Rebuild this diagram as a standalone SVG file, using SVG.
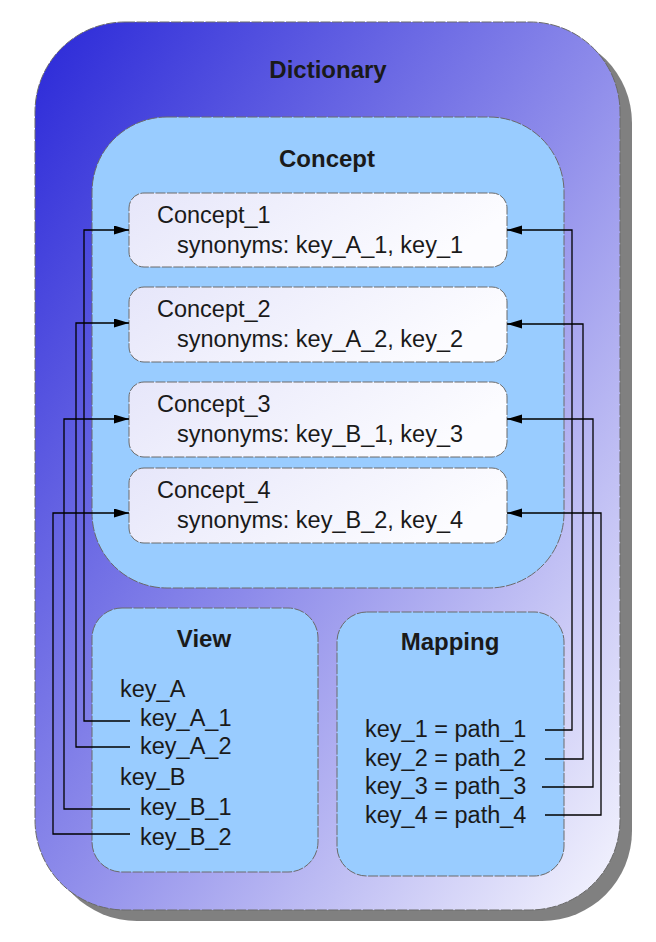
<svg xmlns="http://www.w3.org/2000/svg" width="656" height="942" viewBox="0 0 656 942">
<defs>
<linearGradient id="gDict" x1="0" y1="0" x2="1" y2="1">
<stop offset="0" stop-color="#2a28d8"/>
<stop offset="0.5" stop-color="#8c8aea"/>
<stop offset="1" stop-color="#f6f6fe"/>
</linearGradient>
<linearGradient id="gItem" x1="0" y1="0" x2="1" y2="0.3">
<stop offset="0" stop-color="#e6e6fa"/>
<stop offset="1" stop-color="#fcfcff"/>
</linearGradient>
<marker id="arr" markerUnits="userSpaceOnUse" markerWidth="16" markerHeight="10" refX="15" refY="4.5" orient="auto">
<path d="M0,0 L15,4.5 L0,9 Z" fill="#000"/>
</marker>
</defs>
<style>
.box{stroke:#6a6a6a;stroke-width:1;stroke-dasharray:10,1.5}
.inner{fill:#99ccff}
.item{fill:url(#gItem)}
.t{font-family:"Liberation Sans",Arial,sans-serif;font-size:23.5px;fill:#1a1a1a}
.h{font-family:"Liberation Sans",Arial,sans-serif;font-size:24px;font-weight:bold;fill:#1a1a1a;text-anchor:middle}
.c{fill:none;stroke:#000;stroke-width:1.3;marker-end:url(#arr)}
</style>
<g id="dictionary">
<rect x="47" y="33" width="585" height="888" rx="90" ry="90" fill="#808080"/>
<rect class="box" x="35" y="22" width="585" height="888" rx="90" ry="90" fill="url(#gDict)"/>
<text class="h" x="328" y="78">Dictionary</text>
</g>
<g id="concept">
<rect class="box inner" x="92" y="117" width="472" height="471" rx="75" ry="75"/>
<text class="h" x="327" y="167">Concept</text>
</g>
<g id="concept_1">
<rect class="box item" x="129" y="193" width="378" height="74" rx="15" ry="15"/>
<text class="t" x="157" y="223">Concept_1</text>
<text class="t" x="177" y="253">synonyms: key_A_1, key_1</text>
</g>
<g id="concept_2">
<rect class="box item" x="129" y="287" width="378" height="75" rx="15" ry="15"/>
<text class="t" x="157" y="317">Concept_2</text>
<text class="t" x="177" y="347">synonyms: key_A_2, key_2</text>
</g>
<g id="concept_3">
<rect class="box item" x="129" y="382" width="378" height="75" rx="15" ry="15"/>
<text class="t" x="157" y="412">Concept_3</text>
<text class="t" x="177" y="442">synonyms: key_B_1, key_3</text>
</g>
<g id="concept_4">
<rect class="box item" x="129" y="468" width="378" height="75" rx="15" ry="15"/>
<text class="t" x="157" y="498">Concept_4</text>
<text class="t" x="177" y="528">synonyms: key_B_2, key_4</text>
</g>
<g id="view">
<rect class="box inner" x="92" y="608" width="226" height="264" rx="30" ry="30"/>
<text class="h" x="204" y="647">View</text>
<text class="t" x="120" y="697">key_A</text>
<text class="t" x="140" y="726">key_A_1</text>
<text class="t" x="140" y="754">key_A_2</text>
<text class="t" x="120" y="785">key_B</text>
<text class="t" x="140" y="815">key_B_1</text>
<text class="t" x="140" y="845">key_B_2</text>
</g>
<g id="mapping">
<rect class="box inner" x="337" y="612" width="227" height="264" rx="30" ry="30"/>
<text class="h" x="450" y="650">Mapping</text>
<text class="t" x="365" y="737">key_1 = path_1</text>
<text class="t" x="365" y="766">key_2 = path_2</text>
<text class="t" x="365" y="794">key_3 = path_3</text>
<text class="t" x="365" y="823">key_4 = path_4</text>
</g>
<g id="connectors">
<polyline class="c" points="130,721 84,721 84,230 129,230"/>
<polyline class="c" points="130,747 76,747 76,323 129,323"/>
<polyline class="c" points="130,809 64,809 64,419 129,419"/>
<polyline class="c" points="130,834 53,834 53,513 129,513"/>
<polyline class="c" points="545,730 572,730 572,230 507,230"/>
<polyline class="c" points="545,759 583,759 583,324 507,324"/>
<polyline class="c" points="542,787 593,787 593,419 507,419"/>
<polyline class="c" points="545,815 601,815 601,513 507,513"/>
</g>
</svg>
